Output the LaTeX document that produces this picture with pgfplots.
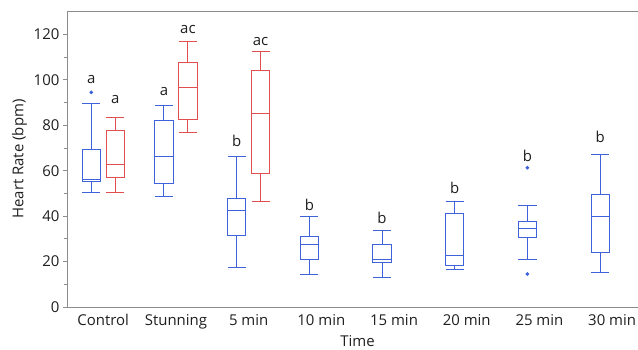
\documentclass[border=0pt]{standalone}
\usepackage{pgfplots}
\pgfplotsset{compat=1.18}
\usepgfplotslibrary{statistics}
\usepackage{fontspec}
\setmainfont{Open Sans}
\definecolor{bblue}{RGB}{62,98,218}
\definecolor{rred}{RGB}{224,78,80}
\definecolor{axgray}{RGB}{140,140,140}
\definecolor{txt}{RGB}{30,30,30}
\begin{document}
\begin{tikzpicture}
\begin{axis}[
  name=ax,
  scale only axis,
  width=571.1bp, height=296bp,
  xmin=-0.5, xmax=7.356,
  ymin=0, ymax=130.3,
  axis x line=box, axis y line=left,
  y axis line style={-},
  axis line style={axgray, line width=0.8pt},
  xtick={0,1,2,3,4,5,6,7},
  xticklabels={Control,Stunning,5 min,10 min,15 min,20 min,25 min,30 min},
  x tick style={draw=none},
  ytick={0,20,40,60,80,100,120},
  minor y tick num=1,
  tick align=outside,
  major tick length=4bp, minor tick length=2.5bp,
  y tick style={axgray, line width=0.8pt},
  tick label style={font=\fontsize{15}{17}\selectfont, text=txt},
  /pgf/number format/assume math mode=true,
  xlabel={Time}, ylabel={Heart Rate (bpm)},
  label style={font=\fontsize{15}{17}\selectfont, text=txt},
  xlabel style={at={(axis description cs:0.509,0)}, anchor=north, yshift=-25bp},
  ylabel style={yshift=0bp},
  clip=false,
  boxplot/draw direction=y,
  boxplot/box extend=0.25,
  boxplot/whisker extend=0.25,
]
% blue series
\addplot[bblue, line width=1bp, mark=*, mark size=1.3pt, mark options={solid, fill=bblue, draw=bblue},
  boxplot prepared={draw position=-0.165, lower whisker=50.5, lower quartile=55.2, median=56.0, upper quartile=69.4, upper whisker=89.8}]
  table[row sep=\\, y index=0]{v\\ 94.5\\};
\addplot[bblue, line width=1bp,
  boxplot prepared={draw position=0.835, lower whisker=48.8, lower quartile=54.4, median=66.2, upper quartile=82.0, upper whisker=88.6}]
  coordinates {};
\addplot[bblue, line width=1bp,
  boxplot prepared={draw position=1.835, lower whisker=17.2, lower quartile=31.4, median=42.5, upper quartile=47.7, upper whisker=66.4}]
  coordinates {};
\addplot[bblue, line width=1bp,
  boxplot prepared={draw position=2.835, lower whisker=14.4, lower quartile=21.1, median=27.4, upper quartile=31.1, upper whisker=39.8}]
  coordinates {};
\addplot[bblue, line width=1bp,
  boxplot prepared={draw position=3.835, lower whisker=12.8, lower quartile=19.7, median=20.8, upper quartile=27.4, upper whisker=33.6}]
  coordinates {};
\addplot[bblue, line width=1bp,
  boxplot prepared={draw position=4.835, lower whisker=16.3, lower quartile=18.3, median=22.7, upper quartile=41.2, upper whisker=46.6}]
  coordinates {};
\addplot[bblue, line width=1bp, mark=*, mark size=1.3pt, mark options={solid, fill=bblue, draw=bblue},
  boxplot prepared={draw position=5.835, lower whisker=20.8, lower quartile=30.7, median=34.5, upper quartile=37.7, upper whisker=44.9}]
  table[row sep=\\, y index=0]{v\\ 61.3\\ 14.5\\};
\addplot[bblue, line width=1bp,
  boxplot prepared={draw position=6.835, lower whisker=15.4, lower quartile=24.1, median=39.9, upper quartile=49.6, upper whisker=67.2}]
  coordinates {};
% red series
\addplot[rred, line width=1bp,
  boxplot prepared={draw position=0.165, lower whisker=50.5, lower quartile=56.9, median=62.8, upper quartile=77.7, upper whisker=83.6}]
  coordinates {};
\addplot[rred, line width=1bp,
  boxplot prepared={draw position=1.165, lower whisker=76.9, lower quartile=82.7, median=96.5, upper quartile=107.8, upper whisker=116.9}]
  coordinates {};
\addplot[rred, line width=1bp,
  boxplot prepared={draw position=2.165, lower whisker=46.5, lower quartile=58.7, median=85.2, upper quartile=104.1, upper whisker=112.5}]
  coordinates {};
% letters
\addplot[only marks, mark=none, nodes near coords, point meta=explicit symbolic,
  every node near coord/.append style={inner sep=0pt, text=txt, font=\fontsize{15}{17}\selectfont}]
  table[meta=lab]{
x y lab
-0.165 98.4 a
0.165 89.5 a
0.835 93.1 a
1.165 120.1 ac
1.835 70.6 b
2.165 114.9 ac
2.835 42.4 b
3.835 36.4 b
4.835 50.0 b
5.835 64.1 b
6.835 72.3 b
};
\end{axis}
\pgfresetboundingbox
\useasboundingbox ([xshift=-66.9bp,yshift=-43bp]ax.south west) rectangle ([yshift=11bp]ax.north east);
\end{tikzpicture}
\end{document}
